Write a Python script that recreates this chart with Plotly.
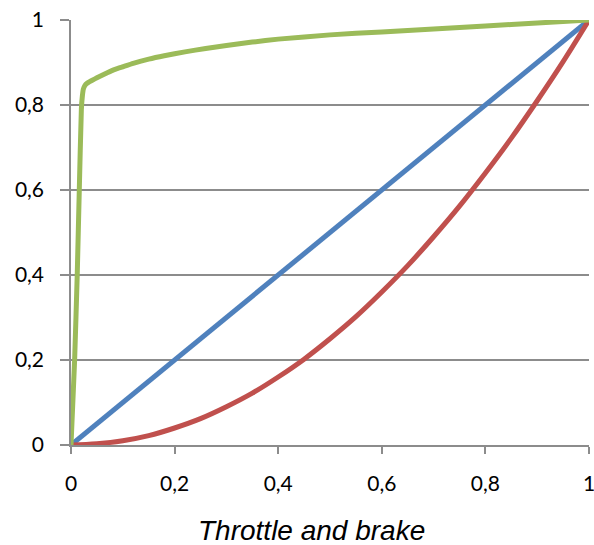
import plotly.graph_objects as go

# Data
blue_x = [0.0, 1.0]
blue_y = [0.0, 1.0]

red_x = [0.0, 0.05, 0.1, 0.15, 0.2, 0.25, 0.3, 0.35, 0.4, 0.45, 0.5,
         0.55, 0.6, 0.65, 0.7, 0.75, 0.8, 0.85, 0.9, 0.95, 1.0]
red_y = [0.0, 0.003, 0.01, 0.022, 0.04, 0.062, 0.09, 0.122, 0.16, 0.202, 0.25,
         0.302, 0.36, 0.422, 0.49, 0.562, 0.64, 0.722, 0.81, 0.902, 1.0]

green_x = [0.0, 0.007, 0.012, 0.016, 0.020, 0.022, 0.024, 0.027, 0.031, 0.036, 0.042,
           0.05, 0.06, 0.07, 0.085, 0.1, 0.12, 0.15, 0.18, 0.22, 0.26, 0.3,
           0.35, 0.4, 0.5, 0.6, 0.7, 0.8, 0.9, 1.0]
green_y = [0.0, 0.2, 0.4, 0.6, 0.79, 0.822, 0.838, 0.846, 0.851, 0.855, 0.859,
           0.864, 0.870, 0.876, 0.884, 0.890, 0.898, 0.908, 0.916, 0.925, 0.933, 0.940,
           0.948, 0.955, 0.965, 0.972, 0.979, 0.986, 0.993, 1.0]

tick_vals = [0, 0.2, 0.4, 0.6, 0.8, 1]
tick_text = ["0", "0,2", "0,4", "0,6", "0,8", "1"]
x_title = "Throttle and brake"

fig = go.Figure()
fig.add_trace(go.Scatter(x=blue_x, y=blue_y, mode="lines",
                         line=dict(color="#4F81BD", width=5)))
fig.add_trace(go.Scatter(x=red_x, y=red_y, mode="lines",
                         line=dict(color="#C0504D", width=5, shape="spline")))
fig.add_trace(go.Scatter(x=green_x, y=green_y, mode="lines",
                         line=dict(color="#9BBB59", width=5, shape="spline", smoothing=0.4)))

axis_color = "#8c8c8c"
fig.update_layout(
    width=594, height=545,
    margin=dict(l=71, r=5, t=20, b=100, autoexpand=False),
    paper_bgcolor="white", plot_bgcolor="white",
    showlegend=False,
    font=dict(family="Lato", size=21, color="black"),
    xaxis=dict(range=[0, 1], tickvals=tick_vals, ticktext=tick_text,
               showgrid=False, zeroline=False, showline=True,
               linecolor=axis_color, linewidth=1.5,
               ticks="outside", ticklen=7, tickwidth=1.5, tickcolor=axis_color,
               ticklabelstandoff=12, ticklabeloverflow="allow", automargin=False),
    yaxis=dict(range=[0, 1], tickvals=tick_vals, ticktext=tick_text,
               showgrid=True, gridcolor=axis_color, gridwidth=1.5,
               zeroline=False, showline=True,
               linecolor=axis_color, linewidth=1.5,
               ticks="outside", ticklen=9, tickwidth=1.5, tickcolor=axis_color,
               ticklabelstandoff=12, ticklabeloverflow="allow", automargin=False),
    annotations=[dict(text="<i>" + x_title + "</i>", xref="paper", yref="paper",
                      x=0.465, y=-0.20, xanchor="center", yanchor="middle",
                      showarrow=False,
                      font=dict(family="Liberation Sans", size=28, color="black"))],
)

fig.write_html("out.html")
